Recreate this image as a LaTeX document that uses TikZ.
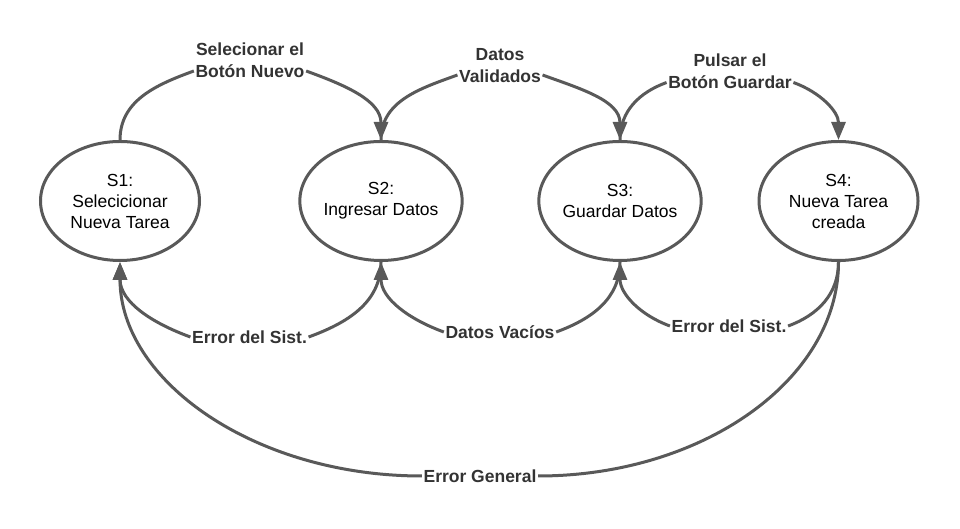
\documentclass[tikz,border=0pt]{standalone}
\usepackage{fontspec}
\setmainfont{Liberation Sans}
\usetikzlibrary{shapes.geometric,arrows.meta}
\definecolor{lc}{HTML}{595959}
\definecolor{tc}{HTML}{333333}
\begin{document}
\begin{tikzpicture}[x=1pt,y=1pt,
 state/.style={ellipse,draw=lc,line width=3pt,minimum width=159pt,minimum height=119pt,inner sep=0pt,align=center,font=\fontsize{17.5}{21}\selectfont},
 lbl/.style={fill=white,inner sep=1.5pt,align=center,text=tc,font=\fontsize{17.5}{22}\selectfont\bfseries},
 conn/.style={draw=lc,line width=3pt},
 arr/.style={conn,-{Triangle[length=18pt,width=14pt]}}]
\useasboundingbox (0,0) rectangle (960,529);
\fill[white] (0,0) rectangle (960,529);
\node[state] (s1) at (120,328) {S1:\\Selecicionar\\Nueva Tarea};
\node[state] (s2) at (381,328) {S2:\\Ingresar Datos};
\node[state] (s3) at (620,328) {S3:\\Guardar Datos};
\node[state] (s4) at (838.5,328) {S4:\\Nueva Tarea\\creada};

\node[lbl] (t1) at (250,469) {Selecionar el\\Botón Nuevo};
\node[lbl] (t2) at (500,463) {Datos\\Validados};
\node[lbl] (t3) at (730,457.5) {Pulsar el\\Botón Guardar};
\node[lbl] (b1) at (249.5,192) {Error del Sist.};
\node[lbl] (b2) at (500,197) {Datos Vacíos};
\node[lbl] (b3) at (729,203) {Error del Sist.};
\node[lbl] (b4) at (480,53) {Error General};

\coordinate (t1w) at ([yshift=-11pt]t1.west);
\coordinate (t1e) at ([yshift=-11pt]t1.east);
\coordinate (t2w) at ([yshift=-9pt]t2.west);
\coordinate (t2e) at ([yshift=-9pt]t2.east);
\coordinate (t3w) at ([yshift=-11pt]t3.west);
\coordinate (t3e) at ([yshift=-11pt]t3.east);

\draw[conn] (s1.north) to[out=90,in=200] (t1w);
\draw[arr] (t1e) to[out=-20,in=90] (s2.north);
\draw[conn] (s2.north) to[out=90,in=200] (t2w);
\draw[arr] (t2e) to[out=-20,in=90] (s3.north);
\draw[conn] (s3.north) to[out=90,in=200] (t3w);
\draw[arr] (t3e) to[out=-20,in=90] (s4.north);

\draw[conn] (s2.south) to[out=-90,in=20] (b1.east);
\draw[arr] (b1.west) to[out=160,in=-90] (s1.south);
\draw[conn] (s3.south) to[out=-90,in=20] (b2.east);
\draw[arr] (b2.west) to[out=160,in=-90] (s2.south);
\draw[conn] (s4.south) to[out=-90,in=20] (b3.east);
\draw[arr] (b3.west) to[out=160,in=-90] (s3.south);

\draw[conn] (s4.south) .. controls +(0,-118) and +(164,0) .. (b4.east);
\draw[arr] (b4.west) .. controls +(-167,0) and +(0,-119) .. (s1.south);
\end{tikzpicture}
\end{document}
